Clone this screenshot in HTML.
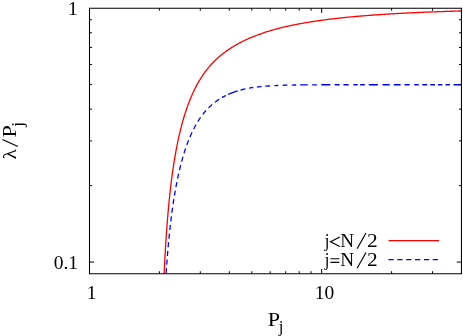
<!DOCTYPE html>
<html><head><meta charset="utf-8"><style>
html,body{margin:0;padding:0;background:#fff;}
svg{display:block;will-change:transform}
text{font-family:"Liberation Serif",serif;font-size:19.5px;fill:#000}
</style></head><body>
<svg width="463" height="336" viewBox="0 0 463 336">
<path d="M164.14 273.65 L164.14 273.64 L164.14 273.56 L164.15 273.44 L164.16 273.25 L164.17 273.02 L164.18 272.74 L164.20 272.41 L164.21 272.02 L164.23 271.59 L164.26 271.11 L164.28 270.58 L164.31 270.01 L164.34 269.39 L164.37 268.72 L164.41 268.01 L164.44 267.25 L164.48 266.46 L164.52 265.62 L164.57 264.74 L164.61 263.82 L164.66 262.87 L164.71 261.87 L164.77 260.85 L164.82 259.78 L164.88 258.69 L164.94 257.56 L165.01 256.41 L165.07 255.22 L165.14 254.01 L165.21 252.77 L165.28 251.50 L165.36 250.21 L165.43 248.90 L165.51 247.56 L165.59 246.21 L165.68 244.83 L165.77 243.44 L165.86 242.03 L165.95 240.60 L166.04 239.16 L166.14 237.71 L166.24 236.24 L166.34 234.76 L166.44 233.27 L166.55 231.77 L166.65 230.26 L166.77 228.74 L166.88 227.22 L166.99 225.68 L167.11 224.15 L167.23 222.60 L167.35 221.06 L167.48 219.50 L167.61 217.95 L167.74 216.40 L167.87 214.84 L168.00 213.28 L168.14 211.72 L168.28 210.16 L168.42 208.61 L168.56 207.05 L168.71 205.50 L168.86 203.94 L169.01 202.39 L169.16 200.85 L169.32 199.30 L169.48 197.76 L169.64 196.23 L169.80 194.70 L169.97 193.17 L170.13 191.65 L170.30 190.13 L170.48 188.63 L170.65 187.12 L170.83 185.62 L171.01 184.13 L171.19 182.65 L171.37 181.17 L171.56 179.70 L171.75 178.24 L171.94 176.78 L172.14 175.34 L172.33 173.90 L172.53 172.46 L172.73 171.04 L172.94 169.63 L173.14 168.22 L173.35 166.82 L173.56 165.43 L173.77 164.05 L173.99 162.67 L174.21 161.31 L174.43 159.95 L174.65 158.61 L174.87 157.27 L175.10 155.94 L175.33 154.62 L175.56 153.31 L175.80 152.01 L176.03 150.71 L176.27 149.43 L176.51 148.16 L176.76 146.89 L177.00 145.64 L177.25 144.39 L177.50 143.15 L177.76 141.92 L178.01 140.70 L178.27 139.49 L178.53 138.29 L178.79 137.10 L179.06 135.92 L179.33 134.75 L179.60 133.58 L179.87 132.43 L180.14 131.28 L180.42 130.15 L180.70 129.02 L180.98 127.90 L181.27 126.79 L181.55 125.69 L181.84 124.60 L182.13 123.52 L182.43 122.44 L182.72 121.38 L183.02 120.32 L183.32 119.28 L183.63 118.24 L183.93 117.21 L184.24 116.19 L184.55 115.18 L184.86 114.17 L185.18 113.18 L185.50 112.19 L185.82 111.21 L186.14 110.24 L186.46 109.28 L186.79 108.33 L187.12 107.39 L187.45 106.45 L187.79 105.53 L188.12 104.61 L188.46 103.70 L188.80 102.79 L189.15 101.90 L189.49 101.01 L189.84 100.14 L190.19 99.27 L190.54 98.40 L190.90 97.55 L191.26 96.70 L191.62 95.86 L191.98 95.03 L192.35 94.21 L192.71 93.40 L193.08 92.59 L193.46 91.79 L193.83 91.00 L194.21 90.21 L194.59 89.43 L194.97 88.66 L195.35 87.90 L195.74 87.15 L196.13 86.40 L196.52 85.66 L196.91 84.93 L197.31 84.20 L197.71 83.48 L198.11 82.77 L198.51 82.07 L198.92 81.37 L199.33 80.68 L199.74 79.99 L200.15 79.32 L200.56 78.65 L200.98 77.98 L201.40 77.33 L201.82 76.68 L202.25 76.03 L202.68 75.40 L203.11 74.77 L203.54 74.14 L203.97 73.53 L204.41 72.92 L204.85 72.31 L205.29 71.71 L205.73 71.12 L206.18 70.53 L206.63 69.95 L207.08 69.38 L207.53 68.81 L207.99 68.25 L208.44 67.69 L208.90 67.14 L209.37 66.60 L209.83 66.06 L210.30 65.52 L210.77 65.00 L211.24 64.47 L211.72 63.96 L212.19 63.44 L212.67 62.94 L213.15 62.44 L213.64 61.94 L214.12 61.45 L214.61 60.96 L215.10 60.48 L215.60 60.00 L216.09 59.53 L216.59 59.07 L217.09 58.60 L217.60 58.14 L218.10 57.69 L218.61 57.24 L219.12 56.80 L219.63 56.36 L220.15 55.92 L220.66 55.49 L221.18 55.06 L221.71 54.64 L222.23 54.22 L222.76 53.81 L223.29 53.39 L223.82 52.99 L224.35 52.58 L224.89 52.18 L225.43 51.79 L225.97 51.39 L226.51 51.00 L227.06 50.62 L227.61 50.24 L228.16 49.86 L228.71 49.48 L229.27 49.11 L229.82 48.74 L230.39 48.37 L230.95 48.01 L231.51 47.65 L232.08 47.30 L232.65 46.94 L233.22 46.59 L233.80 46.25 L234.37 45.90 L234.95 45.56 L235.53 45.22 L236.12 44.89 L236.70 44.55 L237.29 44.22 L237.88 43.90 L238.48 43.57 L239.07 43.25 L239.67 42.93 L240.27 42.61 L240.88 42.30 L241.48 41.99 L242.09 41.68 L242.70 41.37 L243.31 41.07 L243.93 40.77 L244.54 40.47 L245.16 40.18 L245.79 39.88 L246.41 39.59 L247.04 39.30 L247.67 39.02 L248.30 38.73 L248.93 38.45 L249.57 38.18 L250.21 37.90 L250.85 37.62 L251.49 37.35 L252.14 37.08 L252.79 36.82 L253.44 36.55 L254.09 36.29 L254.74 36.03 L255.40 35.77 L256.06 35.52 L256.73 35.26 L257.39 35.01 L258.06 34.76 L258.73 34.52 L259.40 34.27 L260.07 34.03 L260.75 33.79 L261.43 33.55 L262.11 33.32 L262.79 33.08 L263.48 32.85 L264.17 32.62 L264.86 32.39 L265.55 32.17 L266.25 31.94 L266.95 31.72 L267.65 31.50 L268.35 31.29 L269.06 31.07 L269.77 30.86 L270.48 30.64 L271.19 30.43 L271.90 30.23 L272.62 30.02 L273.34 29.82 L274.06 29.61 L274.79 29.41 L275.51 29.21 L276.24 29.02 L276.97 28.82 L277.71 28.63 L278.44 28.44 L279.18 28.25 L279.92 28.06 L280.67 27.87 L281.41 27.69 L282.16 27.50 L282.91 27.32 L283.66 27.14 L284.42 26.96 L285.18 26.79 L285.94 26.61 L286.70 26.44 L287.46 26.27 L288.23 26.09 L289.00 25.93 L289.77 25.76 L290.55 25.59 L291.32 25.43 L292.10 25.26 L292.88 25.10 L293.67 24.94 L294.45 24.78 L295.24 24.63 L296.03 24.47 L296.83 24.31 L297.62 24.16 L298.42 24.01 L299.22 23.86 L300.02 23.71 L300.83 23.56 L301.64 23.41 L302.45 23.27 L303.26 23.12 L304.07 22.98 L304.89 22.84 L305.71 22.70 L306.53 22.56 L307.36 22.42 L308.18 22.29 L309.01 22.15 L309.84 22.02 L310.68 21.88 L311.51 21.75 L312.35 21.62 L313.19 21.49 L314.04 21.36 L314.88 21.23 L315.73 21.11 L316.58 20.98 L317.43 20.86 L318.29 20.74 L319.15 20.61 L320.01 20.49 L320.87 20.37 L321.73 20.25 L322.60 20.14 L323.47 20.02 L324.34 19.90 L325.22 19.79 L326.09 19.68 L326.97 19.56 L327.85 19.45 L328.74 19.34 L329.62 19.23 L330.51 19.12 L331.40 19.01 L332.30 18.91 L333.19 18.80 L334.09 18.70 L334.99 18.59 L335.89 18.49 L336.80 18.39 L337.71 18.28 L338.62 18.18 L339.53 18.08 L340.44 17.98 L341.36 17.89 L342.28 17.79 L343.20 17.69 L344.13 17.60 L345.05 17.50 L345.98 17.41 L346.91 17.32 L347.85 17.22 L348.78 17.13 L349.72 17.04 L350.66 16.95 L351.60 16.86 L352.55 16.78 L353.50 16.69 L354.45 16.60 L355.40 16.52 L356.36 16.43 L357.31 16.35 L358.27 16.26 L359.24 16.18 L360.20 16.10 L361.17 16.02 L362.14 15.94 L363.11 15.86 L364.08 15.78 L365.06 15.70 L366.04 15.62 L367.02 15.54 L368.00 15.47 L368.99 15.39 L369.98 15.31 L370.97 15.24 L371.96 15.17 L372.96 15.09 L373.96 15.02 L374.96 14.95 L375.96 14.88 L376.96 14.81 L377.97 14.74 L378.98 14.67 L379.99 14.60 L381.01 14.53 L382.02 14.46 L383.04 14.40 L384.07 14.33 L385.09 14.26 L386.12 14.20 L387.15 14.13 L388.18 14.07 L389.21 14.01 L390.25 13.94 L391.28 13.88 L392.33 13.82 L393.37 13.76 L394.41 13.70 L395.46 13.64 L396.51 13.58 L397.56 13.52 L398.62 13.46 L399.68 13.41 L400.74 13.35 L401.80 13.29 L402.86 13.24 L403.93 13.18 L405.00 13.12 L406.07 13.07 L407.15 13.02 L408.22 12.96 L409.30 12.91 L410.38 12.86 L411.47 12.80 L412.55 12.75 L413.64 12.70 L414.73 12.65 L415.82 12.60 L416.92 12.55 L418.02 12.50 L419.12 12.45 L420.22 12.41 L421.32 12.36 L422.43 12.31 L423.54 12.26 L424.65 12.22 L425.77 12.17 L426.89 12.13 L428.00 12.08 L429.13 12.04 L430.25 11.99 L431.38 11.95 L432.51 11.90 L433.64 11.86 L434.77 11.82 L435.91 11.78 L437.04 11.74 L438.19 11.69 L439.33 11.65 L440.47 11.61 L441.62 11.57 L442.77 11.53 L443.92 11.49 L445.08 11.45 L446.24 11.42 L447.40 11.38 L448.56 11.34 L449.72 11.30 L450.89 11.27 L452.06 11.23 L453.23 11.19 L454.40 11.16 L455.58 11.12 L456.76 11.09 L457.94 11.05 L459.12 11.02 L460.31 10.98 L461.50 10.95" fill="none" stroke="#ff0000" stroke-width="1.3"/>
<path d="M166.08 273.65 L166.08 273.57 L166.10 273.38 L166.11 273.14 L166.13 272.86 L166.15 272.54 L166.18 272.19 L166.20 271.80 L166.23 271.40 L166.26 270.96 L166.29 270.51 L166.33 270.03 L166.36 269.54 L166.40 269.02 L166.43 268.49 L166.47 267.94 L166.51 267.38 L166.55 266.80 L166.60 266.21 L166.64 265.61 L166.69 264.99 L166.73 264.36 L166.78 263.73 L166.83 263.08 L166.88 262.42 L166.93 261.75 L166.98 261.08 L167.03 260.39 L167.08 259.70 L167.14 259.00 L167.19 258.30 L167.25 257.59 L167.31 256.87 L167.37 256.15 L167.43 255.42 L167.49 254.69 L167.55 253.95 L167.61 253.21 L167.67 252.46 L167.73 251.71 L167.80 250.96 L167.86 250.20 L167.93 249.44 L168.00 248.68 L168.06 247.91 L168.13 247.15 L168.20 246.38 L168.27 245.61 L168.34 244.84 L168.41 244.06 L168.48 243.29 L168.55 242.51 L168.63 241.74 L168.70 240.96 L168.78 240.18 L168.85 239.40 L168.93 238.63 L169.00 237.85 L169.08 237.07 L169.16 236.29 L169.24 235.51 L169.32 234.74 L169.40 233.96 L169.48 233.18 L169.56 232.41 L169.64 231.63 L169.72 230.86 L169.81 230.09 L169.89 229.32 L169.98 228.54 L170.06 227.78 L170.15 227.01 L170.23 226.24 L170.32 225.48 L170.41 224.71 L170.50 223.95 L170.58 223.19 L170.67 222.44 L170.76 221.68 L170.85 220.93 L170.94 220.17 L171.04 219.42 L171.13 218.68 L171.22 217.93 L171.31 217.19 L171.41 216.45 L171.50 215.71 L171.60 214.97 L171.69 214.24 L171.79 213.50 L171.89 212.77 L171.98 212.05 L172.08 211.32 L172.18 210.60 L172.28 209.88 L172.38 209.16 L172.48 208.45 L172.58 207.74 L172.68 207.03 L172.78 206.32 L172.88 205.62 L172.98 204.92 L173.08 204.22 L173.19 203.52 L173.29 202.83 L173.40 202.14 L173.50 201.45 L173.61 200.76 L173.71 200.08 L173.82 199.40 L173.93 198.73 L174.03 198.05 L174.14 197.38 L174.25 196.71 L174.36 196.05 L174.47 195.39 L174.58 194.73 L174.69 194.07 L174.80 193.42 L174.91 192.77 L175.02 192.12 L175.13 191.47 L175.24 190.83 L175.36 190.19 L175.47 189.55 L175.58 188.92 L175.70 188.29 L175.81 187.66 L175.93 187.04 L176.04 186.42 L176.16 185.80 L176.28 185.18 L176.39 184.57 L176.51 183.96 L176.63 183.35 L176.75 182.74 L176.87 182.14 L176.99 181.54 L177.11 180.95 L177.23 180.35 L177.35 179.76 L177.47 179.17 L177.59 178.59 L177.71 178.01 L177.83 177.43 L177.95 176.85 L178.08 176.28 L178.20 175.71 L178.33 175.14 L178.45 174.57 L178.57 174.01 L178.70 173.45 L178.83 172.89 L178.95 172.34 L179.08 171.79 L179.20 171.24 L179.33 170.69 L179.46 170.15 L179.59 169.61 L179.72 169.07 L179.84 168.54 L179.97 168.01 L180.10 167.48 L180.23 166.95 L180.36 166.43 L180.50 165.90 L180.63 165.39 L180.76 164.87 L180.89 164.36 L181.02 163.84 L181.16 163.34 L181.29 162.83 L181.42 162.33 L181.56 161.83 L181.69 161.33 L181.83 160.83 L181.96 160.34 L182.10 159.85 L182.23 159.36 L182.37 158.88 L182.51 158.40 L182.64 157.92 L182.78 157.44 L182.92 156.96 L183.06 156.49 L183.19 156.02 L183.33 155.55 L183.47 155.09 L183.61 154.63 L183.75 154.16 L183.89 153.71 L184.03 153.25 L184.18 152.80 L184.32 152.35 L184.46 151.90 L184.60 151.45 L184.74 151.01 L184.89 150.57 L185.03 150.13 L185.17 149.70 L185.32 149.26 L185.46 148.83 L185.61 148.40 L185.75 147.97 L185.90 147.55 L186.04 147.13 L186.19 146.71 L186.34 146.29 L186.48 145.88 L186.63 145.46 L186.78 145.05 L186.93 144.64 L187.08 144.24 L187.22 143.83 L187.37 143.43 L187.52 143.03 L187.67 142.63 L187.82 142.24 L187.97 141.84 L188.12 141.45 L188.28 141.06 L188.43 140.68 L188.58 140.29 L188.73 139.91 L188.88 139.53 L189.04 139.15 L189.19 138.78 L189.34 138.40 L189.50 138.03 L189.65 137.66 L189.81 137.29 L189.96 136.93 L190.12 136.56 L190.27 136.20 L190.43 135.84 L190.58 135.49 L190.74 135.13 L190.90 134.78 L191.05 134.43 L191.21 134.08 L191.37 133.73 L191.53 133.38 L191.69 133.04 L191.85 132.70 L192.01 132.36 L192.17 132.02 L192.32 131.69 L192.49 131.35 L192.65 131.02 L192.81 130.69 L192.97 130.36 L193.13 130.04 L193.29 129.71 L193.45 129.39 L193.62 129.07 L193.78 128.75 L193.94 128.44 L194.10 128.12 L194.27 127.81 L194.43 127.50 L194.60 127.19 L194.76 126.88 L194.93 126.57 L195.09 126.27 L195.26 125.97 L195.42 125.67 L195.59 125.37 L195.76 125.07 L195.92 124.78 L196.09 124.48 L196.26 124.19 L196.43 123.90 L196.59 123.62 L196.76 123.33 L196.93 123.04 L197.10 122.76 L197.27 122.48 L197.44 122.20 L197.61 121.92 L197.78 121.65 L197.95 121.37 L198.12 121.10 L198.29 120.83 L198.46 120.56 L198.64 120.29 L198.81 120.03 L198.98 119.76 L199.15 119.50 L199.33 119.24 L199.50 118.98 L199.67 118.72 L199.85 118.46 L200.02 118.21 L200.20 117.95 L200.37 117.70 L200.55 117.45 L200.72 117.20 L200.90 116.96 L201.07 116.71 L201.25 116.47 L201.43 116.22 L201.60 115.98 L201.78 115.74 L201.96 115.50 L202.14 115.27 L202.31 115.03 L202.49 114.80 L202.67 114.57 L202.85 114.34 L203.03 114.11 L203.21 113.88 L203.39 113.65 L203.57 113.43 L203.75 113.21 L203.93 112.98 L204.11 112.76 L204.29 112.54 L204.47 112.33 L204.65 112.11 L204.84 111.89 L205.02 111.68 L205.20 111.47 L205.38 111.26 L205.57 111.05 L205.75 110.84 L205.94 110.63 L206.12 110.43 L206.30 110.22 L206.49 110.02 L206.67 109.82 L206.86 109.62 L207.04 109.42 L207.23 109.22 L207.42 109.03 L207.60 108.83 L207.79 108.64 L207.98 108.45 L208.16 108.25 L208.35 108.06 L208.54 107.88 L208.73 107.69 L208.91 107.50 L209.10 107.32 L209.29 107.13 L209.48 106.95 L209.67 106.77 L209.86 106.59 L210.05 106.41 L210.24 106.23 L210.43 106.06 L210.62 105.88 L210.81 105.71 L211.00 105.53 L211.20 105.36 L211.39 105.19 L211.58 105.02 L211.77 104.85 L211.96 104.69 L212.16 104.52 L212.35 104.35 L212.54 104.19 L212.74 104.03 L212.93 103.86 L213.13 103.70 L213.32 103.54 L213.52 103.39 L213.71 103.23 L213.91 103.07 L214.10 102.92 L214.30 102.76 L214.49 102.61 L214.69 102.45 L214.89 102.30 L215.08 102.15 L215.28 102.00 L215.48 101.86 L215.68 101.71 L215.87 101.56 L216.07 101.42 L216.27 101.27 L216.47 101.13 L216.67 100.99 L216.87 100.84 L217.07 100.70 L217.27 100.56 L217.47 100.43 L217.67 100.29 L217.87 100.15 L218.07 100.01 L218.27 99.88 L218.47 99.75 L218.67 99.61 L218.88 99.48 L219.08 99.35 L219.28 99.22 L219.48 99.09 L219.69 98.96 L219.89 98.83 L220.09 98.70 L220.30 98.58 L220.50 98.45" fill="none" stroke="#0000ff" stroke-width="1.3" stroke-dasharray="5.1 3.58" stroke-dashoffset="-0.4"/>
<path d="M221.90 97.62 L223.23 96.87 L224.57 96.15 L225.90 95.47M228.20 94.38 L231.33 93.05 L234.47 91.87 L237.60 90.85M240.50 90.02 L242.13 89.61 L243.77 89.22 L245.40 88.86M249.10 88.15 L250.47 87.92 L251.83 87.71 L253.20 87.51M256.90 87.03 L258.43 86.85 L259.97 86.69 L261.50 86.54M265.30 86.21 L266.87 86.09 L268.43 85.98 L270.00 85.88M274.40 85.63 L275.70 85.57 L277.00 85.51 L278.30 85.46M282.70 85.30 L284.27 85.25 L285.83 85.20 L287.40 85.16M291.80 85.06 L293.27 85.03 L294.73 85.00 L296.20 84.98M300.10 84.92 L302.67 84.89 L305.23 84.86 L307.80 84.84M312.20 84.81 L313.77 84.80 L315.33 84.79 L316.90 84.78M321.30 84.76 L324.33 84.76 L327.37 84.75 L330.40 84.75M334.70 84.75 L336.30 84.75 L337.90 84.75 L339.50 84.75M343.40 84.75 L345.13 84.75 L346.87 84.75 L348.60 84.75M353.30 84.75 L354.77 84.75 L356.23 84.75 L357.70 84.75M360.10 84.75 L361.67 84.75 L363.23 84.75 L364.80 84.75M368.80 84.75 L371.83 84.75 L374.87 84.75 L377.90 84.75M382.50 84.75 L384.90 84.75 L387.30 84.75 L389.70 84.75M393.80 84.75 L396.07 84.75 L398.33 84.75 L400.60 84.75M404.60 84.75 L406.27 84.75 L407.93 84.75 L409.60 84.75M414.20 84.75 L415.70 84.75 L417.20 84.75 L418.70 84.75M422.30 84.75 L423.93 84.75 L425.57 84.75 L427.20 84.75M430.30 84.75 L431.87 84.75 L433.43 84.75 L435.00 84.75M437.90 84.75 L439.37 84.75 L440.83 84.75 L442.30 84.75M445.50 84.75 L446.97 84.75 L448.43 84.75 L449.90 84.75M453.50 84.75 L456.13 84.75 L458.77 84.75 L461.40 84.75" fill="none" stroke="#0000ff" stroke-width="1.3"/>
<path d="M388.5 240.55H439.05" stroke="#ff0000" stroke-width="1.3" fill="none"/>
<path d="M388.5 259.55H439.1" stroke="#0000ff" stroke-width="1.3" fill="none" stroke-dasharray="5.2 3.65"/>
<path d="M159.40 273.65v-2.4M159.40 8.25v2.4M200.29 273.65v-2.4M200.29 8.25v2.4M229.30 273.65v-2.4M229.30 8.25v2.4M251.80 273.65v-2.4M251.80 8.25v2.4M270.19 273.65v-2.4M270.19 8.25v2.4M285.73 273.65v-2.4M285.73 8.25v2.4M299.20 273.65v-2.4M299.20 8.25v2.4M311.08 273.65v-2.4M311.08 8.25v2.4M321.70 273.65v-4.7M321.70 8.25v4.7M391.60 273.65v-2.4M391.60 8.25v2.4M432.49 273.65v-2.4M432.49 8.25v2.4M89.50 262.05h4.7M461.45 262.05h-4.7M89.50 185.62h2.4M461.45 185.62h-2.4M89.50 140.91h2.4M461.45 140.91h-2.4M89.50 109.19h2.4M461.45 109.19h-2.4M89.50 84.58h2.4M461.45 84.58h-2.4M89.50 64.48h2.4M461.45 64.48h-2.4M89.50 47.48h2.4M461.45 47.48h-2.4M89.50 32.76h2.4M461.45 32.76h-2.4M89.50 19.77h2.4M461.45 19.77h-2.4" stroke="#000" stroke-width="1" fill="none"/>
<path d="M89.50 8.25H461.45V273.65H89.50Z" fill="none" stroke="#000" stroke-width="1.05"/>
<text x="77.7" y="14.6" text-anchor="end">1</text>
<text x="78.1" y="268.8" text-anchor="end">0.1</text>
<text x="91.5" y="299.2" text-anchor="middle">1</text>
<text x="324.5" y="299.2" text-anchor="middle">10</text>
<text transform="translate(324.86 246.80) scale(0.905 1)" style="font-size:18.4px">j</text>
<path d="M339.8 236.90L330.5 241.70L339.8 246.50" fill="none" stroke="#000" stroke-width="1.15"/>
<text transform="translate(340.27 246.80) scale(1.043 1)" style="font-size:18.4px">N</text>
<path d="M357.1 248.70L366.0 233.00" fill="none" stroke="#000" stroke-width="1.15"/>
<text transform="translate(367.11 246.80) scale(1.160 1)" style="font-size:18.4px">2</text>
<text transform="translate(324.86 266.30) scale(0.905 1)" style="font-size:18.4px">j</text>
<path d="M330.4 258.70H339.3M330.4 262.30H339.3" fill="none" stroke="#000" stroke-width="1.15"/>
<text transform="translate(340.27 266.30) scale(1.043 1)" style="font-size:18.4px">N</text>
<path d="M357.1 268.20L366.0 252.50" fill="none" stroke="#000" stroke-width="1.15"/>
<text transform="translate(367.11 266.30) scale(1.160 1)" style="font-size:18.4px">2</text>
<text transform="translate(267.78 325.60) scale(1.169 1)" style="font-size:19px">P</text>
<text x="278.65" y="331.9" style="font-size:16.8px">j</text>
<g transform="translate(15.8 160) rotate(-90)">
<text transform="translate(0.67 0.00) scale(1.091 1)" style="font-size:19px">λ</text>
<path d="M13.45 2.1L20.45 -13.4" fill="none" stroke="#000" stroke-width="1.15"/>
<text transform="translate(22.53 0.00) scale(1.169 1)" style="font-size:19px">P</text>
<text x="33.33" y="6.9" style="font-size:16.8px">j</text>
</g>
</svg>
</body></html>
